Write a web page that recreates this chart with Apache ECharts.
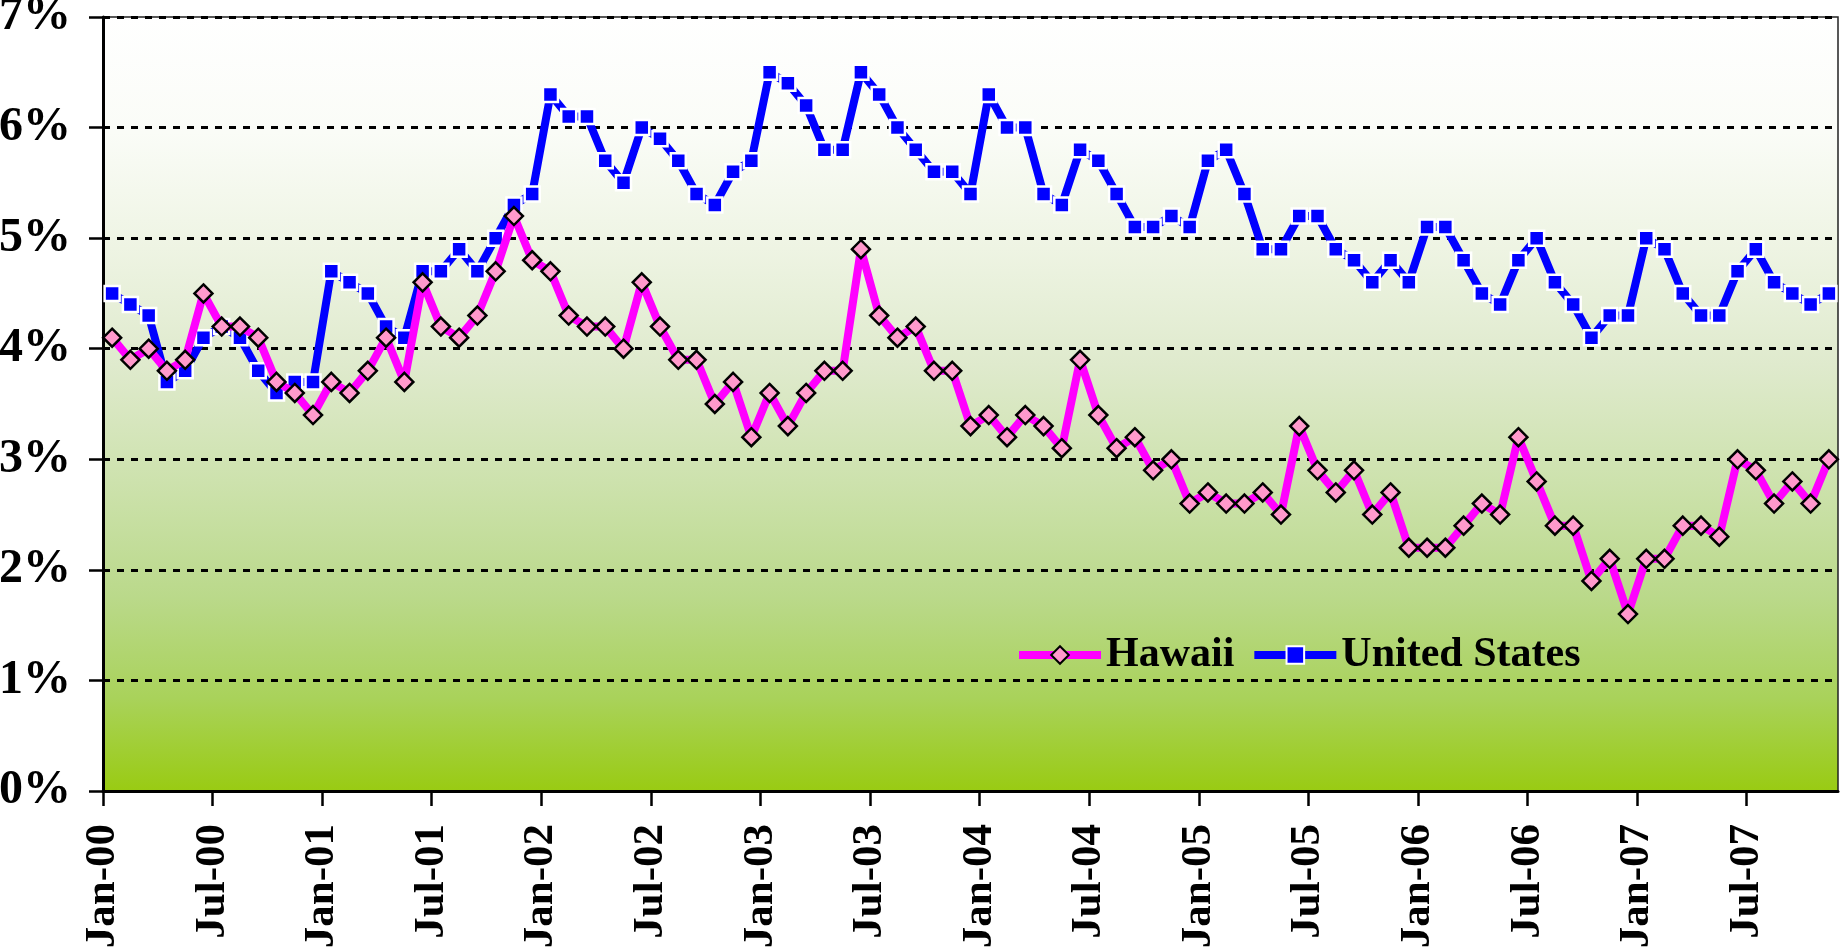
<!DOCTYPE html>
<html>
<head>
<meta charset="utf-8">
<title>Hawaii vs United States</title>
<script src="https://cdn.jsdelivr.net/npm/echarts@6/dist/echarts.min.js"></script>
<style>
  html, body { margin: 0; padding: 0; background: #fff; }
  #chart { width: 1841px; height: 951px; }
</style>
</head>
<body>
<div id="chart"></div>
<script>
// monthly, Jan-00 .. Nov-07 (95 months)
var tickLabels = ['Jan-00', 'Jul-00', 'Jan-01', 'Jul-01', 'Jan-02', 'Jul-02', 'Jan-03', 'Jul-03',
  'Jan-04', 'Jul-04', 'Jan-05', 'Jul-05', 'Jan-06', 'Jul-06', 'Jan-07', 'Jul-07'];

var hawaii = [
  4.1, 3.9, 4.0, 3.8, 3.9, 4.5, 4.2, 4.2, 4.1, 3.7, 3.6, 3.4,
  3.7, 3.6, 3.8, 4.1, 3.7, 4.6, 4.2, 4.1, 4.3, 4.7, 5.2, 4.8,
  4.7, 4.3, 4.2, 4.2, 4.0, 4.6, 4.2, 3.9, 3.9, 3.5, 3.7, 3.2,
  3.6, 3.3, 3.6, 3.8, 3.8, 4.9, 4.3, 4.1, 4.2, 3.8, 3.8, 3.3,
  3.4, 3.2, 3.4, 3.3, 3.1, 3.9, 3.4, 3.1, 3.2, 2.9, 3.0, 2.6,
  2.7, 2.6, 2.6, 2.7, 2.5, 3.3, 2.9, 2.7, 2.9, 2.5, 2.7, 2.2,
  2.2, 2.2, 2.4, 2.6, 2.5, 3.2, 2.8, 2.4, 2.4, 1.9, 2.1, 1.6,
  2.1, 2.1, 2.4, 2.4, 2.3, 3.0, 2.9, 2.6, 2.8, 2.6, 3.0
];

var unitedStates = [
  4.5, 4.4, 4.3, 3.7, 3.8, 4.1, 4.2, 4.1, 3.8, 3.6, 3.7, 3.7,
  4.7, 4.6, 4.5, 4.2, 4.1, 4.7, 4.7, 4.9, 4.7, 5.0, 5.3, 5.4,
  6.3, 6.1, 6.1, 5.7, 5.5, 6.0, 5.9, 5.7, 5.4, 5.3, 5.6, 5.7,
  6.5, 6.4, 6.2, 5.8, 5.8, 6.5, 6.3, 6.0, 5.8, 5.6, 5.6, 5.4,
  6.3, 6.0, 6.0, 5.4, 5.3, 5.8, 5.7, 5.4, 5.1, 5.1, 5.2, 5.1,
  5.7, 5.8, 5.4, 4.9, 4.9, 5.2, 5.2, 4.9, 4.8, 4.6, 4.8, 4.6,
  5.1, 5.1, 4.8, 4.5, 4.4, 4.8, 5.0, 4.6, 4.4, 4.1, 4.3, 4.3,
  5.0, 4.9, 4.5, 4.3, 4.3, 4.7, 4.9, 4.6, 4.5, 4.4, 4.5
];

var FONT = "'Liberation Serif', 'Times New Roman', serif";

// each month is plotted in the middle of its slot
function toPoints(values) {
  return values.map(function (v, i) { return [i + 0.5, v]; });
}

var chart = echarts.init(document.getElementById('chart'));

var option = {
  animation: false,
  grid: {
    left: 103,
    right: 3,
    top: 17,
    bottom: 160,
    outerBoundsMode: 'none',
    show: true,
    borderColor: '#222',
    borderWidth: 1.5,
    backgroundColor: new echarts.graphic.LinearGradient(0, 0, 0, 1, [
      { offset: 0, color: '#ffffff' },
      { offset: 0.15, color: '#fafcf7' },
      { offset: 0.3, color: '#eef4e3' },
      { offset: 0.45, color: '#dfeacd' },
      { offset: 0.6, color: '#cde2ad' },
      { offset: 0.75, color: '#bad98a' },
      { offset: 0.88, color: '#a9d25a' },
      { offset: 1, color: '#99cb12' }
    ])
  },
  legend: {
    left: 1010,
    top: 629,
    itemWidth: 82,
    itemHeight: 22,
    itemGap: 16,
    lineStyle: { width: 8 },
    textStyle: { fontFamily: FONT, fontWeight: 'bold', fontSize: 42, color: '#000' },
    data: ['Hawaii', 'United States']
  },
  xAxis: {
    type: 'value',
    min: 0,
    max: 95,
    interval: 6,
    axisLine: { show: true, lineStyle: { color: '#000', width: 3 } },
    axisTick: { show: true, length: 15, lineStyle: { color: '#000', width: 2.5 } },
    splitLine: { show: false },
    axisLabel: {
      rotate: 90,
      margin: 33,
      padding: [10, 0, 0, 0],
      fontFamily: FONT,
      fontWeight: 'bold',
      fontSize: 43,
      color: '#000',
      showMaxLabel: false,
      formatter: function (v) {
        return v % 6 === 0 ? (tickLabels[v / 6] || '') : '';
      }
    }
  },
  yAxis: {
    type: 'value',
    min: 0,
    max: 7,
    interval: 1,
    axisLine: { show: true, lineStyle: { color: '#000', width: 3 } },
    axisTick: { show: true, length: 14, lineStyle: { color: '#000', width: 2.5 } },
    splitLine: { show: true, lineStyle: { color: '#000', width: 3, type: [7, 7] } },
    axisLabel: {
      margin: 32,
      padding: [7, 0, 0, 0],
      fontFamily: FONT,
      fontWeight: 'bold',
      fontSize: 48,
      color: '#000',
      formatter: function (v) { return v + '%'; }
    }
  },
  series: [
    {
      name: 'Hawaii',
      type: 'line',
      data: toPoints(hawaii),
      symbol: 'diamond',
      symbolSize: 18,
      lineStyle: { color: '#ff00ff', width: 8 },
      itemStyle: { color: '#ff99cc', borderColor: '#000', borderWidth: 2.5 },
      z: 3
    },
    {
      name: 'United States',
      type: 'line',
      data: toPoints(unitedStates),
      symbol: 'rect',
      symbolSize: 15,
      lineStyle: { color: '#0000ff', width: 8 },
      itemStyle: { color: '#0000ff', borderColor: '#fff', borderWidth: 2.5 },
      z: 2
    }
  ]
};

chart.setOption(option);
</script>
</body>
</html>
